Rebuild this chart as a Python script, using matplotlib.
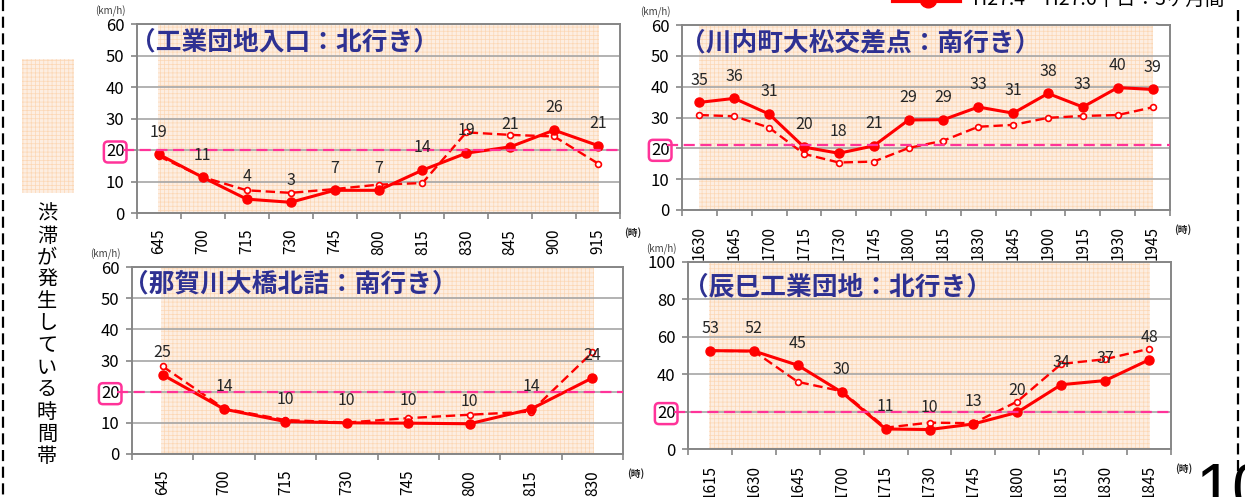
import numpy as np
import matplotlib
matplotlib.use("Agg")
import matplotlib.pyplot as plt
from matplotlib.lines import Line2D
from matplotlib.patches import Rectangle

plt.rcParams["font.family"] = ["Noto Sans CJK JP", "DejaVu Sans"]
plt.rcParams["hatch.linewidth"] = 0.5

W, H = 1245, 497

# ---- data (km/h) ----
tl_times = ["645", "700", "715", "730", "745", "800", "815", "830", "845", "900", "915"]
tl_now = [18.6, 11.3, 4.4, 3.4, 7.2, 7.2, 13.6, 19.0, 21.0, 26.3, 21.4]
tl_prev = [18.0, 11.4, 7.2, 6.4, 7.6, 9.0, 9.5, 25.6, 24.8, 24.3, 15.7]

tr_times = ["1630", "1645", "1700", "1715", "1730", "1745", "1800",
            "1815", "1830", "1845", "1900", "1915", "1930", "1945"]
tr_now = [34.9, 36.2, 31.1, 20.4, 18.4, 20.8, 29.2, 29.3, 33.4, 31.4, 37.8, 33.4, 39.7, 39.1]
tr_prev = [30.8, 30.4, 26.7, 18.2, 15.4, 15.7, 20.1, 22.5, 27.0, 27.6, 29.9, 30.5, 30.8, 33.3]

bl_times = ["645", "700", "715", "730", "745", "800", "815", "830"]
bl_now = [25.4, 14.4, 10.4, 10.0, 9.9, 9.7, 14.4, 24.4]
bl_prev = [28.1, 14.6, 10.9, 10.1, 11.5, 12.6, 13.6, 32.6]

br_times = ["1615", "1630", "1645", "1700", "1715", "1730", "1745", "1800", "1815", "1830", "1845"]
br_now = [52.6, 52.4, 44.8, 30.4, 10.7, 10.4, 13.4, 19.6, 34.4, 36.6, 47.7]
br_prev = [52.5, 52.3, 35.9, 30.9, 11.4, 14.1, 13.8, 25.4, 45.5, 48.0, 53.6]

NAVY = "#2e3192"
RED = "#ff0000"
PINK = "#ff3399"
GRID = "#a6a6a6"
SPINE = "#868686"
JAM_FACE = "#fdeee2"
JAM_HATCH = "#fcd7b4"

fig = plt.figure(figsize=(W / 100, H / 100), dpi=100)


def fx(x):
    return x / W


def fy(y):
    return 1 - y / H


def panel(box, times, now, prev, title, ymax, ystep, ref, title_xy):
    x0, y0, x1, y1 = box
    ax = fig.add_axes([fx(x0), fy(y1), (x1 - x0) / W, (y1 - y0) / H])
    n = len(times)
    xs = np.arange(n)
    ax.set_xlim(-0.5, n - 0.5)
    ax.set_ylim(0, ymax)

    ax.axvspan(-0.02, n - 1 + 0.02, facecolor=JAM_FACE, edgecolor=JAM_HATCH,
               hatch="++++", lw=0, zorder=0.2)
    ax.set_axisbelow(True)
    ax.grid(axis="y", color=GRID, lw=1.2)
    for s in ax.spines.values():
        s.set_color(SPINE); s.set_linewidth(1.4)

    ax.set_xticks(xs, times, rotation=90, fontsize=11)
    ax.set_xticks(np.arange(-0.5, n), minor=True)
    ax.tick_params(axis="x", which="major", length=0, pad=11.5)
    ax.tick_params(axis="x", which="minor", length=4, color=SPINE, width=1.2)
    yt = np.arange(0, ymax + 1, ystep)
    ax.set_yticks(yt, [str(v) for v in yt], fontsize=12)
    ax.tick_params(axis="y", length=4, color=SPINE, width=1.2, pad=5)
    lab = ax.get_yticklabels()[list(yt).index(20)]
    lab.set_bbox(dict(boxstyle="round,pad=0.12,rounding_size=0.25", fc="none",
                      ec=PINK, lw=1.8))

    ax.plot([-0.03, 1], [ref, ref], transform=ax.get_yaxis_transform(),
            color=PINK, lw=1.6, dashes=(5, 2.5), clip_on=False, zorder=4)

    ax.plot(xs, prev, color=RED, lw=1.7, dashes=(4, 2), marker="o", ms=4.2,
            mfc="white", mec=RED, mew=1.2, zorder=3)
    ax.plot(xs, now, color=RED, lw=2.2, marker="o", ms=6.5, zorder=3.5)
    for x, v in zip(xs, now):
        ax.annotate(f"{v:.0f}", (x, v), xytext=(0, 16), textcoords="offset points",
                    ha="center", va="center", fontsize=11.5, color="#262626", zorder=5)

    fig.text(fx(title_xy[0]), fy(title_xy[1]), title, fontsize=18.5, fontweight="bold",
             color=NAVY, ha="left", va="center")
    fig.text(fx(x0 - 27), fy(y0 - 13), "(km/h)", fontsize=7, color="#404040",
             ha="center", va="center")
    fig.text(fx(x1 + 13), fy(y1 + 20), "(時)", fontsize=7, fontweight="bold",
             color="#262626", ha="center", va="center")
    return ax


panel((137, 24, 620, 213), tl_times, tl_now, tl_prev, "（工業団地入口：北行き）", 60, 10, 20, (130, 42))
panel((682, 25, 1170, 210), tr_times, tr_now, tr_prev, "（川内町大松交差点：南行き）", 60, 10, 21, (680, 43))
panel((132, 267, 623, 454), bl_times, bl_now, bl_prev, "（那賀川大橋北詰：南行き）", 60, 10, 20, (123, 284))
panel((688, 262, 1171, 449), br_times, br_now, br_prev, "（辰巳工業団地：北行き）", 100, 20, 20, (683, 287))

# left legend: congestion time band
fig.patches.append(Rectangle((fx(22), fy(193)), 52 / W, 134 / H, transform=fig.transFigure,
                             facecolor=JAM_FACE, edgecolor=JAM_HATCH, hatch="++++", lw=0))
for i, ch in enumerate("渋滞が発生している時間帯"):
    fig.text(fx(47), fy(214 + 22 * i), ch, fontsize=14.5, ha="center", va="center")

# top legend (cut off by the page edge)
fig.lines.append(Line2D([fx(893), fx(960)], [fy(1), fy(1)], transform=fig.transFigure,
                        color=RED, lw=3))
fig.lines.append(Line2D([fx(928)], [fy(-1)], transform=fig.transFigure, color=RED,
                        marker="o", ms=12))
fig.text(fx(973), fy(5), "H27.4～H27.6平日：3ヶ月間", fontsize=14, ha="left", va="baseline")

# page frame and page number
for x, ytop in [(3, 0), (1238, 10)]:
    fig.lines.append(Line2D([fx(x), fx(x)], [fy(ytop), fy(H)], transform=fig.transFigure,
                            color="black", lw=1.6, dashes=(5, 2.5)))
fig.text(fx(1196), fy(510), "10", fontsize=48, family="Liberation Sans",
         ha="left", va="baseline")

fig.savefig("out.png", dpi=100)
